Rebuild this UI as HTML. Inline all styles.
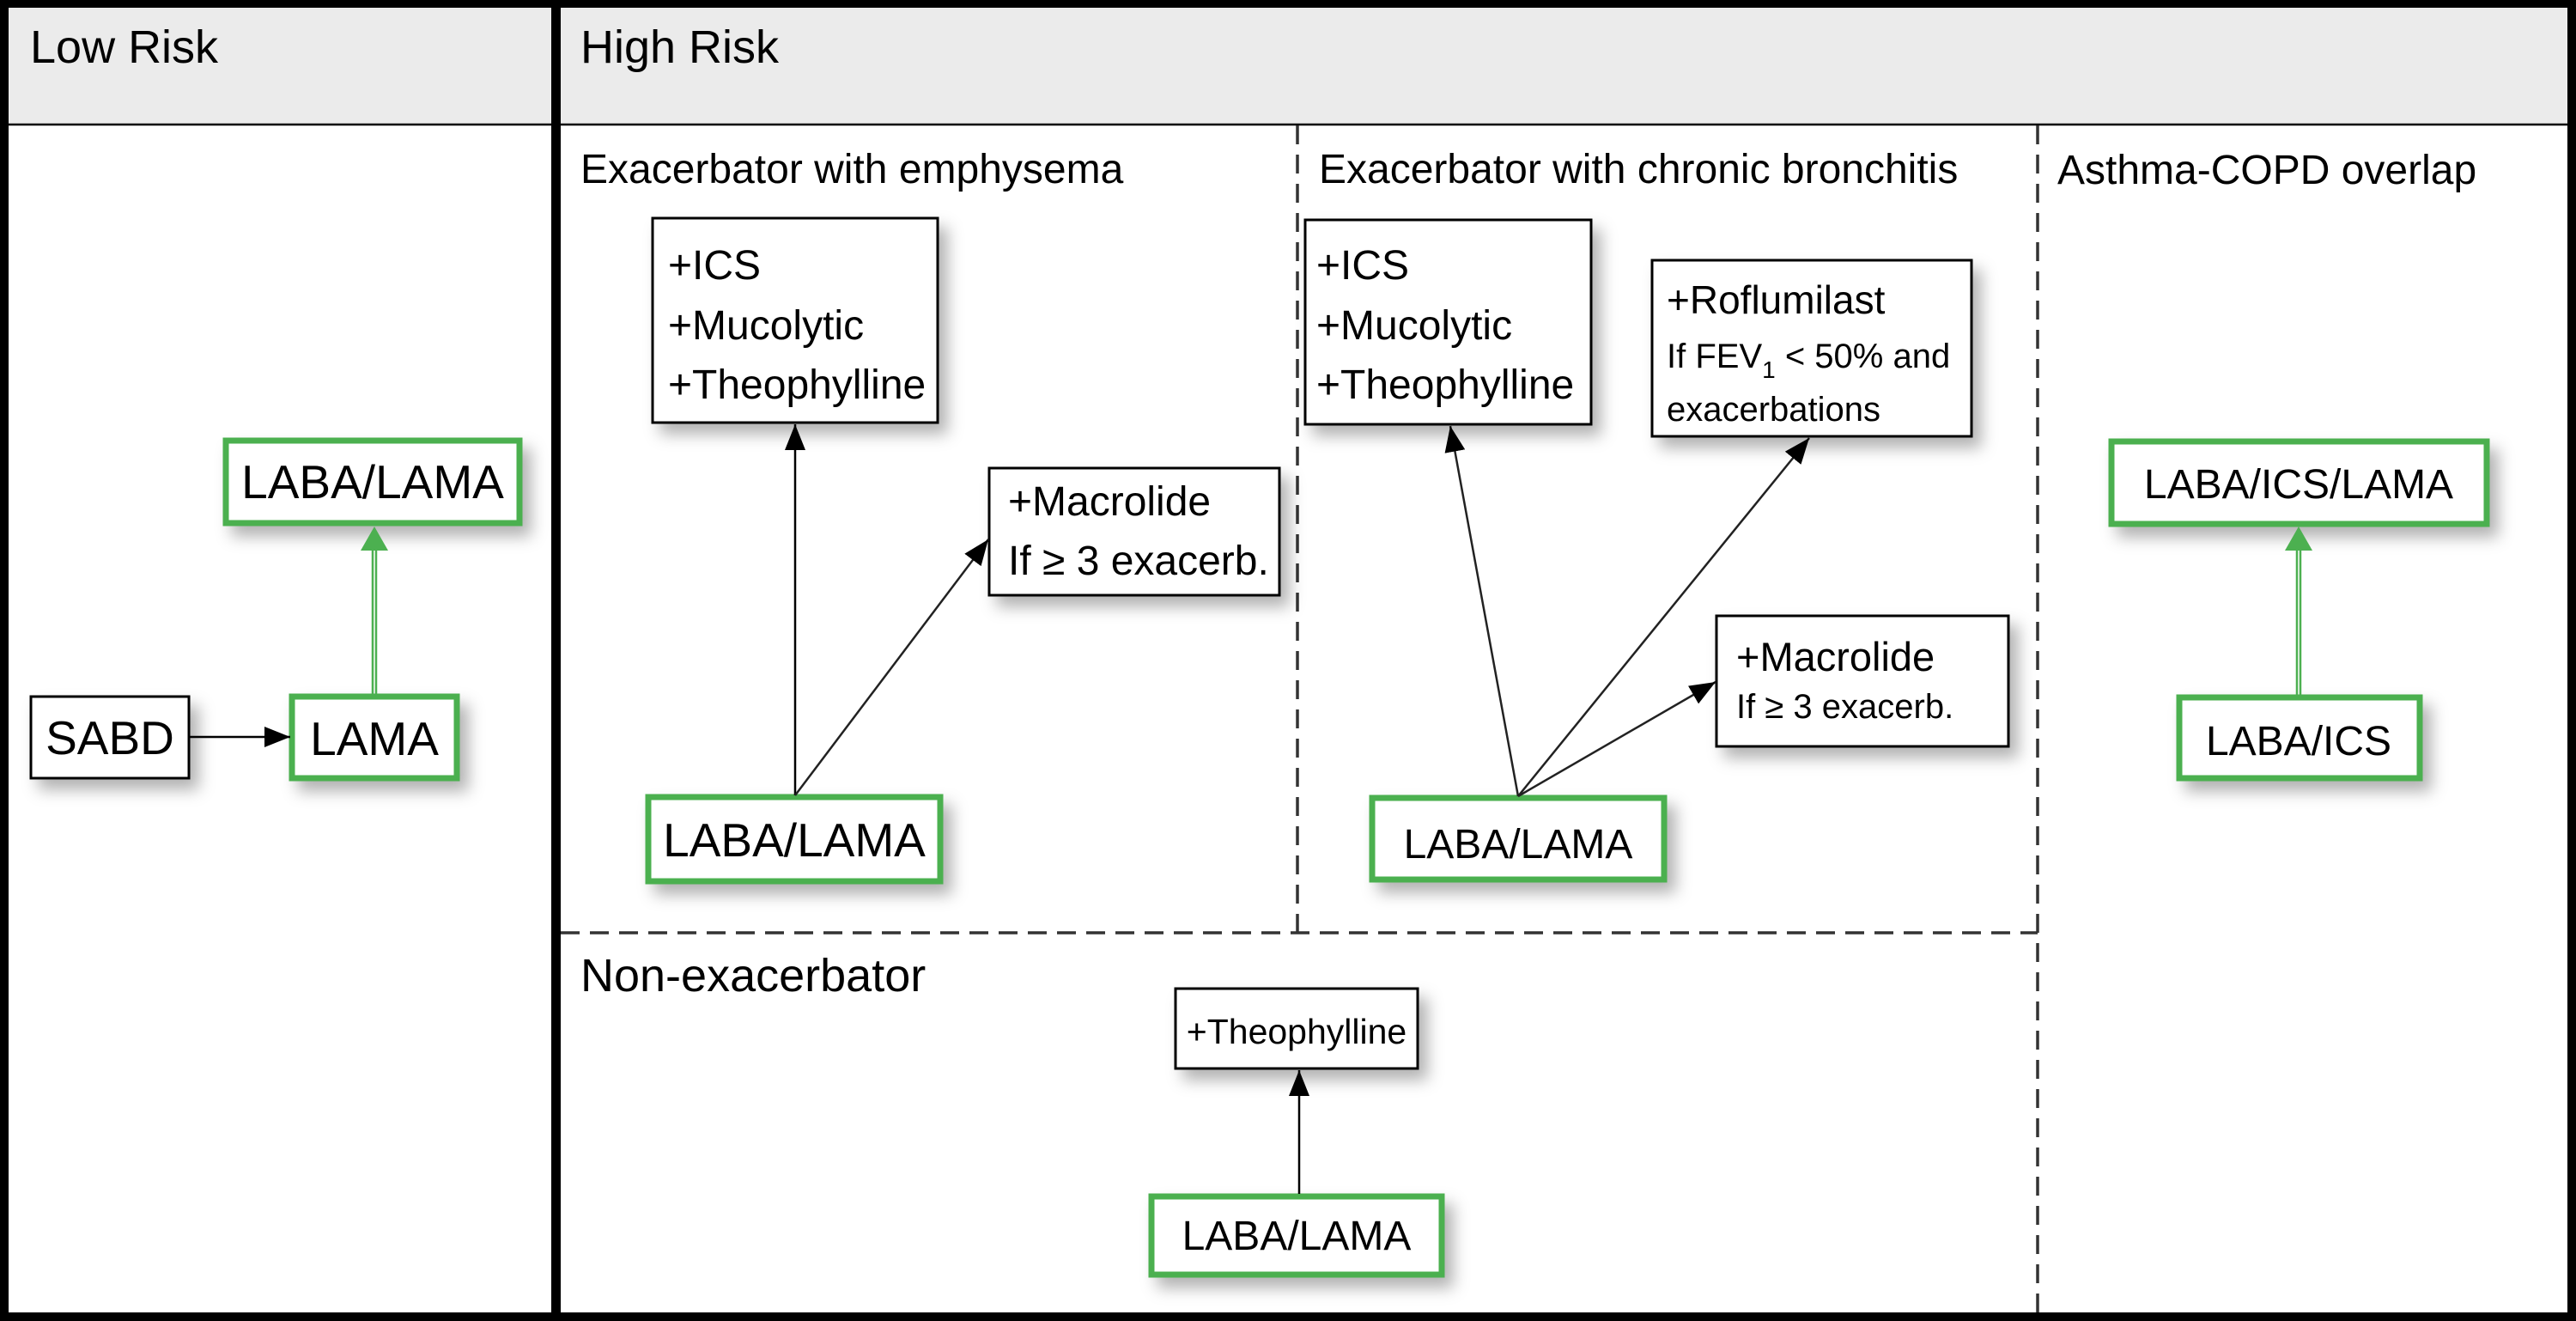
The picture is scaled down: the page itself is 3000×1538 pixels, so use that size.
<!DOCTYPE html>
<html><head><meta charset="utf-8"><style>
html,body{margin:0;padding:0;background:#fff;}
svg{display:block;}
text{font-family:"Liberation Sans",Arial,sans-serif;fill:#000;}
</style></head><body>
<svg width="3000" height="1538" viewBox="0 0 3000 1538" xmlns="http://www.w3.org/2000/svg">
<defs>
<filter id="sh" x="-20%" y="-20%" width="150%" height="160%">
<feDropShadow dx="10" dy="12" stdDeviation="9" flood-color="#000" flood-opacity="0.3"/>
</filter>
<marker id="ah" viewBox="0 0 10 10" refX="10" refY="5" markerWidth="30" markerHeight="24" markerUnits="userSpaceOnUse" orient="auto" preserveAspectRatio="none">
<path d="M0,0 L10,5 L0,10 z" fill="#000"/>
</marker>
</defs>
<rect x="0" y="0" width="3000" height="1538" fill="#fff"/>
<rect x="8" y="8" width="2984" height="137" fill="#ebebeb"/>
<line x1="0" y1="145" x2="3000" y2="145" stroke="#000" stroke-width="2.5"/>
<rect x="5" y="4" width="2990" height="1529" fill="none" stroke="#000" stroke-width="10"/>
<line x1="647.5" y1="0" x2="647.5" y2="1538" stroke="#000" stroke-width="11"/>
<g stroke="#333" stroke-width="3.5" stroke-dasharray="22,12" fill="none">
<line x1="1511" y1="146" x2="1511" y2="1086"/>
<line x1="2373" y1="146" x2="2373" y2="1530"/>
<line x1="653" y1="1086" x2="2373" y2="1086"/>
</g>
<text x="35" y="73" font-size="54">Low Risk</text>
<text x="676" y="73" font-size="54">High Risk</text>
<text x="676" y="213" font-size="48">Exacerbator with emphysema</text>
<text x="1536" y="213" font-size="48">Exacerbator with chronic bronchitis</text>
<text x="2396" y="214" font-size="48">Asthma-COPD overlap</text>
<text x="676" y="1154" font-size="54">Non-exacerbator</text>

<g filter="url(#sh)">
<rect x="36" y="811" width="184" height="95" fill="#fff" stroke="#000" stroke-width="3"/>
<rect x="340" y="811" width="192" height="95" fill="#fff" stroke="#4cb050" stroke-width="7"/>
<rect x="263" y="513" width="342" height="96" fill="#fff" stroke="#4cb050" stroke-width="7"/>
</g>
<text x="128" y="878" font-size="55" text-anchor="middle">SABD</text>
<text x="436" y="879" font-size="55" text-anchor="middle">LAMA</text>
<text x="434" y="580" font-size="55" text-anchor="middle">LABA/LAMA</text>
<line x1="220" y1="858" x2="338" y2="858" stroke="#000" stroke-width="2.5" marker-end="url(#ah)"/>
<line x1="434" y1="808" x2="434" y2="640" stroke="#4cb050" stroke-width="2.5"/>
<line x1="438" y1="808" x2="438" y2="640" stroke="#4cb050" stroke-width="2.5"/>
<path d="M420,641 L436,613 L452,641 z" fill="#4cb050"/>

<g filter="url(#sh)">
<rect x="760" y="254" width="332" height="238" fill="#fff" stroke="#000" stroke-width="3"/>
<rect x="1152" y="545" width="338" height="148" fill="#fff" stroke="#000" stroke-width="3"/>
<rect x="755" y="928" width="340" height="98" fill="#fff" stroke="#4cb050" stroke-width="7"/>
</g>
<text x="778" y="325" font-size="48">+ICS</text>
<text x="778" y="395" font-size="48">+Mucolytic</text>
<text x="778" y="464" font-size="48">+Theophylline</text>
<text x="1174" y="600" font-size="48">+Macrolide</text>
<text x="1174" y="669" font-size="48">If ≥ 3 exacerb.</text>
<text x="925" y="997" font-size="55" text-anchor="middle">LABA/LAMA</text>
<line x1="926" y1="926" x2="926" y2="494" stroke="#000" stroke-width="2.5" marker-end="url(#ah)"/>
<line x1="926" y1="926" x2="1151" y2="628" stroke="#222" stroke-width="2.5" marker-end="url(#ah)"/>

<g filter="url(#sh)">
<rect x="1520" y="256" width="333" height="238" fill="#fff" stroke="#000" stroke-width="3"/>
<rect x="1924" y="303" width="372" height="205" fill="#fff" stroke="#000" stroke-width="3"/>
<rect x="1999" y="717" width="340" height="152" fill="#fff" stroke="#000" stroke-width="3"/>
<rect x="1598" y="929" width="340" height="95" fill="#fff" stroke="#4cb050" stroke-width="7"/>
</g>
<text x="1533" y="325" font-size="48">+ICS</text>
<text x="1533" y="395" font-size="48">+Mucolytic</text>
<text x="1533" y="464" font-size="48">+Theophylline</text>
<text x="1941" y="365" font-size="46">+Roflumilast</text>
<text x="1941" y="428" font-size="40">If FEV<tspan font-size="28" dy="12">1</tspan><tspan dy="-12"> &lt; 50% and</tspan></text>
<text x="1941" y="490" font-size="40">exacerbations</text>
<text x="2022" y="781" font-size="47">+Macrolide</text>
<text x="2022" y="836" font-size="40">If ≥ 3 exacerb.</text>
<text x="1768" y="999" font-size="48" text-anchor="middle">LABA/LAMA</text>
<line x1="1768" y1="927" x2="1689" y2="496" stroke="#222" stroke-width="2.5" marker-end="url(#ah)"/>
<line x1="1768" y1="927" x2="2107" y2="510" stroke="#222" stroke-width="2.5" marker-end="url(#ah)"/>
<line x1="1768" y1="927" x2="1998" y2="794" stroke="#222" stroke-width="2.5" marker-end="url(#ah)"/>

<g filter="url(#sh)">
<rect x="2459" y="514" width="437" height="96" fill="#fff" stroke="#4cb050" stroke-width="7"/>
<rect x="2538" y="812" width="280" height="94" fill="#fff" stroke="#4cb050" stroke-width="7"/>
</g>
<text x="2677" y="580" font-size="48" text-anchor="middle">LABA/ICS/LAMA</text>
<text x="2677" y="879" font-size="48" text-anchor="middle">LABA/ICS</text>
<line x1="2675" y1="810" x2="2675" y2="640" stroke="#4cb050" stroke-width="2.5"/>
<line x1="2679" y1="810" x2="2679" y2="640" stroke="#4cb050" stroke-width="2.5"/>
<path d="M2661,641 L2677,613 L2693,641 z" fill="#4cb050"/>

<g filter="url(#sh)">
<rect x="1369" y="1151" width="282" height="93" fill="#fff" stroke="#000" stroke-width="3"/>
<rect x="1341" y="1393" width="338" height="91" fill="#fff" stroke="#4cb050" stroke-width="7"/>
</g>
<text x="1510" y="1215" font-size="41" text-anchor="middle">+Theophylline</text>
<text x="1510" y="1455" font-size="48" text-anchor="middle">LABA/LAMA</text>
<line x1="1513" y1="1390" x2="1513" y2="1246" stroke="#000" stroke-width="2.5" marker-end="url(#ah)"/>
</svg>
</body></html>
